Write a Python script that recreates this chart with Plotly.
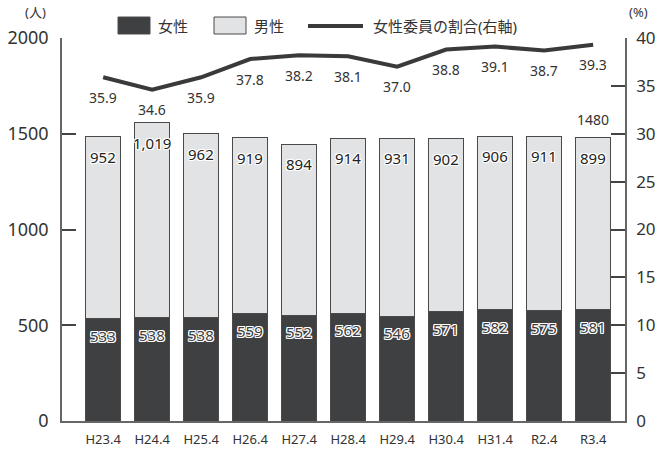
import plotly.graph_objects as go

categories = ["H23.4", "H24.4", "H25.4", "H26.4", "H27.4", "H28.4", "H29.4", "H30.4", "H31.4", "R2.4", "R3.4"]
female = [533, 538, 538, 559, 552, 562, 546, 571, 582, 575, 581]
male = [952, 1019, 962, 919, 894, 914, 931, 902, 906, 911, 899]
ratio = [35.9, 34.6, 35.9, 37.8, 38.2, 38.1, 37.0, 38.8, 39.1, 38.7, 39.3]
total_last = 1480

W, H = 657, 452
L, R, T, B = 62, 625, 38, 421.5

FONT = "Noto Sans, Noto Sans CJK JP, sans-serif"
DARK = "#3f4042"
LIGHT = "#e2e3e4"
EDGE = "#4a4a4a"
TXT = "#333333"

outline_white = ("-1px -1px 0 #fff, 1px -1px 0 #fff, -1px 1px 0 #fff, 1px 1px 0 #fff, "
                 "0 1px 0 #fff, 0 -1px 0 #fff, 1px 0 0 #fff, -1px 0 0 #fff")

fig = go.Figure()
fig.add_trace(go.Bar(
    x=categories, y=female, name="女性",
    marker=dict(color=DARK, line=dict(color=EDGE, width=1)),
    showlegend=False,
))
fig.add_trace(go.Bar(
    x=categories, y=male, name="男性",
    marker=dict(color=LIGHT, line=dict(color=EDGE, width=1)),
    showlegend=False,
))
fig.add_trace(go.Scatter(
    x=categories, y=ratio, yaxis="y2", mode="lines", name="女性委員の割合(右軸)",
    line=dict(color="#3a3a3a", width=4), showlegend=False,
))

annotations = []
for c, f, m in zip(categories, female, male):
    annotations.append(dict(x=c, y=f, xref="x", yref="y", text=f"{f:,}", showarrow=False,
                            yanchor="middle", yshift=-17,
                            font=dict(family=FONT, size=15, color=DARK, shadow=outline_white)))
    annotations.append(dict(x=c, y=f + m, xref="x", yref="y", text=f"{m:,}", showarrow=False,
                            yanchor="middle", yshift=-20,
                            font=dict(family=FONT, size=15, color="#222", shadow=outline_white)))
for c, r in zip(categories, ratio):
    annotations.append(dict(x=c, y=r, xref="x", yref="y2", text=f"{r:.1f}", showarrow=False,
                            yshift=-20, font=dict(family=FONT, size=14, color=TXT)))
annotations.append(dict(x=categories[-1], y=total_last, xref="x", yref="y", text=str(total_last),
                        showarrow=False, yshift=18, font=dict(family=FONT, size=14, color=TXT)))

def px_x(p):
    return (p - L) / (R - L)

def px_y(p):
    return (B - p) / (B - T)

def paper_text(px, py, text, size, xanchor="center"):
    return dict(x=px_x(px), y=px_y(py), xref="paper", yref="paper", text=text, showarrow=False,
                xanchor=xanchor, yanchor="middle", font=dict(family=FONT, size=size, color=TXT))

annotations += [
    paper_text(35, 12, "(人)", 13),
    paper_text(638, 12, "(%)", 13),
    paper_text(156, 26, "女性", 15, "left"),
    paper_text(252, 26, "男性", 15, "left"),
    paper_text(371, 26, "女性委員の割合(右軸)", 15, "left"),
]

shapes = [
    dict(type="rect", xref="paper", yref="paper", x0=px_x(118), x1=px_x(150), y0=px_y(17), y1=px_y(34),
         fillcolor=DARK, line=dict(color=EDGE, width=1)),
    dict(type="rect", xref="paper", yref="paper", x0=px_x(214), x1=px_x(246), y0=px_y(17), y1=px_y(34),
         fillcolor=LIGHT, line=dict(color=EDGE, width=1)),
    dict(type="line", xref="paper", yref="paper", x0=px_x(308), x1=px_x(363), y0=px_y(26), y1=px_y(26),
         line=dict(color="#3a3a3a", width=4)),
]

fig.update_layout(
    width=W, height=H,
    margin=dict(l=L, r=W - R, t=T, b=H - B, autoexpand=False),
    paper_bgcolor="white", plot_bgcolor="white",
    barmode="stack", bargap=0.29,
    font=dict(family=FONT, color=TXT),
    annotations=annotations, shapes=shapes,
    xaxis=dict(range=[-0.84, 10.65], showline=True, linecolor="#666", linewidth=1.5, automargin=False,
               ticks="", showgrid=False, tickfont=dict(size=13, color=TXT), ticklabelstandoff=6),
    yaxis=dict(range=[0, 2000], tickvals=[0, 500, 1000, 1500, 2000], showline=True, linecolor="#666",
               linewidth=1.5, ticks="inside", ticklen=14, tickcolor="#444", tickwidth=1.5, automargin=False,
               showgrid=False, zeroline=False, tickfont=dict(size=18, color=TXT), ticklabelstandoff=8),
    yaxis2=dict(range=[0, 40], tickvals=[0, 5, 10, 15, 20, 25, 30, 35, 40], overlaying="y", side="right",
                showline=True, linecolor="#666", linewidth=1.5, ticks="inside", ticklen=14, automargin=False,
                tickcolor="#444", tickwidth=1.5, showgrid=False, zeroline=False,
                tickfont=dict(size=17, color=TXT), ticklabelstandoff=6),
)

fig.write_html("out.html", config={"displayModeBar": False},
               post_script="document.body.style.margin='0';document.body.style.padding='0';")
